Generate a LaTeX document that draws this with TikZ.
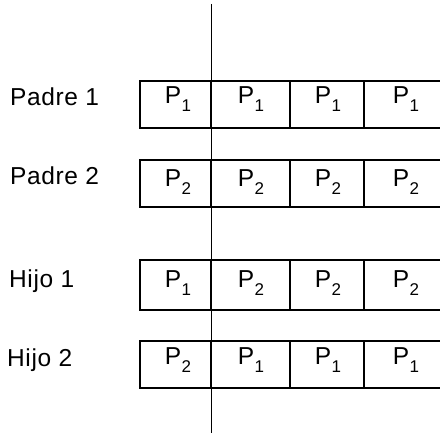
\documentclass[tikz,border=0pt]{standalone}
\usepackage{fontspec}
\setmainfont{Liberation Sans}
\newfontfamily\labelfont[LetterSpace=2.5]{Liberation Sans}
\newcommand\Pidx[1]{P\kern0.5pt\raisebox{-8pt}{\fontsize{17}{17}\selectfont #1}}
\tikzset{
  cellbox/.style={draw=black, line width=1.8pt, rectangle, inner sep=0pt},
  celltext/.style={anchor=base, inner sep=0pt, font=\fontsize{24.5}{25}\selectfont},
  rowlabel/.style={anchor=base west, inner sep=0pt, font=\labelfont\fontsize{24.5}{25}\selectfont},
  axisline/.style={draw=black, line width=1.6pt}
}
\begin{document}
\begin{tikzpicture}[x=1pt,y=-1pt]
\useasboundingbox (0,0) rectangle (440,433);
\clip (0,0) rectangle (440,433);
% column edges
\def\xa{140}\def\xb{211}\def\xc{290}\def\xd{364}\def\xe{448}
% rows: index/top/bottom/baseline/contents
\foreach \r/\t/\b/\bl/\ca/\cb/\cc/\cd in {1/81/128/103.5/1/1/1/1, 2/160/207/187/2/2/2/2, 3/260/310/287.5/1/2/2/2, 4/341/388/365/2/1/1/1}{
  \node[cellbox, minimum width=71pt, minimum height={\b-\t}] (c\r a) at ({(\xa+\xb)/2},{(\t+\b)/2}) {};
  \node[cellbox, minimum width=79pt, minimum height={\b-\t}] (c\r b) at ({(\xb+\xc)/2},{(\t+\b)/2}) {};
  \node[cellbox, minimum width=74pt, minimum height={\b-\t}] (c\r c) at ({(\xc+\xd)/2},{(\t+\b)/2}) {};
  \node[cellbox, minimum width=84pt, minimum height={\b-\t}] (c\r d) at ({(\xd+\xe)/2},{(\t+\b)/2}) {};
  \node[celltext] (t\r a) at (178,\bl) {\Pidx{\ca}};
  \node[celltext] (t\r b) at (251,\bl) {\Pidx{\cb}};
  \node[celltext] (t\r c) at (328,\bl) {\Pidx{\cc}};
  \node[celltext] (t\r d) at (406,\bl) {\Pidx{\cd}};
}
\node[rowlabel] (l1) at (10,105.5) {Padre 1};
\node[rowlabel] (l2) at (10,185) {Padre 2};
\node[rowlabel] (l3) at (9,288) {Hijo 1};
\node[rowlabel] (l4) at (7,366.5) {Hijo 2};
\coordinate (top) at (211.5,4);
\coordinate (bot) at (211.5,434);
\draw[axisline] (top) -- (bot);
\end{tikzpicture}
\end{document}
